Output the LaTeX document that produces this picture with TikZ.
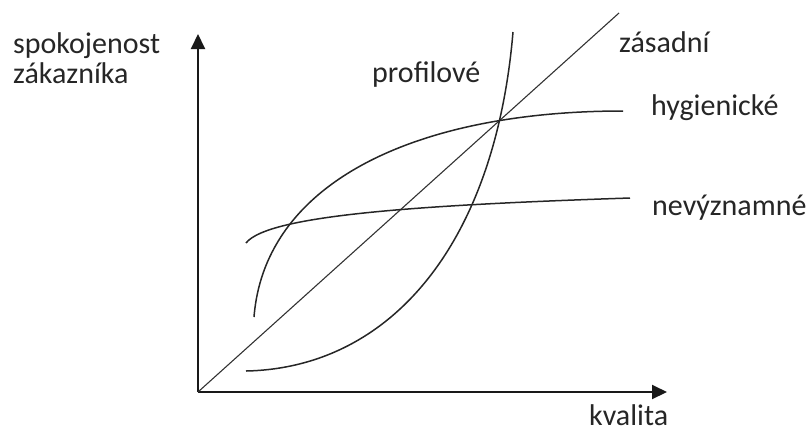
\documentclass[tikz,border=0pt]{standalone}
\usepackage{fontspec}
\setmainfont{Carlito}
\usetikzlibrary{arrows.meta}
\begin{document}
\begin{tikzpicture}[x=1pt,y=-1pt,
  lbl/.style={anchor=base west, inner sep=0pt, font=\fontsize{30}{36}\selectfont, text=black!85},
  axisline/.style={line width=2pt, black!90, -{Triangle[length=15pt,width=14pt]}},
  curveline/.style={line width=1.5pt, black!85},
  diagline/.style={line width=1.1pt, black!80}]
\useasboundingbox (0,0) rectangle (811,432);
% axes
\coordinate (O) at (198,392);
\coordinate (Ytip) at (198,34);
\coordinate (Xtip) at (667,392);
\draw[axisline] (O) -- (Ytip);
\draw[axisline] (O) -- (Xtip);
% zasadni (diagonal)
\coordinate (Dend) at (619,13);
\draw[diagline] (O) -- (Dend);
% profilove
\coordinate (Ps) at (246,371);
\coordinate (Pe) at (513,32);
\draw[curveline] (Ps) .. controls (390,368) and (495,245) .. (Pe);
% hygienicke
\coordinate (Hs) at (254,317);
\coordinate (He) at (623,111);
\draw[curveline] (Hs) .. controls (265,180) and (420,111) .. (He);
% nevyznamne
\coordinate (Ns) at (246,243);
\coordinate (Ne) at (630,198);
\draw[curveline] (Ns) .. controls (268,215) and (420,205) .. (Ne);
% labels
\node[lbl] (ys) at (13,53) {spokojenost};
\node[lbl] (yz) at (13,83) {zákazníka};
\node[lbl] (pr) at (372,82) {profilové};
\node[lbl] (zs) at (619,52) {zásadní};
\node[lbl] (hy) at (651,115) {hygienické};
\node[lbl] (nv) at (652,215) {nevýznamné};
\node[lbl] (kv) at (589,425) {kvalita};
\end{tikzpicture}
\end{document}
